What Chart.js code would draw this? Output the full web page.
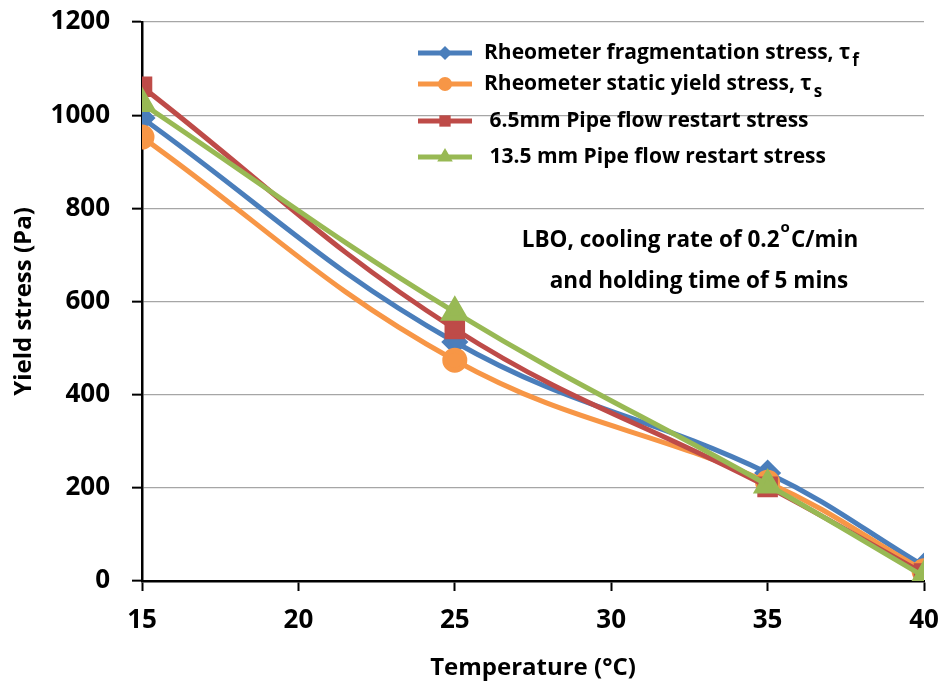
<!DOCTYPE html>
<html>
<head>
<meta charset="utf-8">
<script src="https://cdn.jsdelivr.net/npm/chart.js@4.4.0/dist/chart.umd.min.js"></script>
<style>
  html, body { margin: 0; padding: 0; background: #fff; }
  #wrap { width: 942px; height: 686px; }
</style>
</head>
<body>
<div id="wrap"><canvas id="canvasYield" width="942" height="686"></canvas></div>
<script>
// temperaturas (°C)
var temperaturas = [15, 25, 35, 40];
// esfuerzos (Pa)
var fragmentacion = [994, 513, 232, 32];
var estatico = [953, 474, 212, 22];
var tubo65 = [1061, 541, 202, 16];
var tubo135 = [1025, 577, 206, 10];

var etiquetas = [
	{ txt: 'Rheometer fragmentation stress, \u03c4', sub: 'f' },
	{ txt: 'Rheometer static yield stress, \u03c4', sub: 's' },
	{ txt: ' 6.5mm Pipe flow restart stress', sub: '' },
	{ txt: ' 13.5 mm Pipe flow restart stress', sub: '' }
];
var xTicks = [15, 20, 25, 30, 35, 40];

var colores = ['#4a7ebb', '#f79646', '#be4b48', '#98b954'];
var formas = ['rectRot', 'circle', 'rect', 'triangle'];
var radios = [10, 10, 11, 12];
var series = [fragmentacion, estatico, tubo65, tubo135];

var FONT = '"Open Sans", Lato, sans-serif';

function puntos(arr){
	var out = [];
	temperaturas.forEach(function(t, i){ out.push({ x: t, y: arr[i] }); });
	return out;
}

var toDatasets = [];
series.forEach(function(s, i){
	toDatasets.push({
		label: etiquetas[i].txt + etiquetas[i].sub,
		data: puntos(s),
		borderColor: colores[i],
		backgroundColor: colores[i],
		borderWidth: 5,
		pointStyle: formas[i],
		pointRadius: radios[i],
		pointHoverRadius: radios[i],
		tension: 0.4,
		order: 4 - i,
		fill: false
	});
});

// leyenda dentro del area + nota de texto
var leyendaPlugin = {
	id: 'leyendaPlugin',
	afterDraw: function(chart){
		var ctx = chart.ctx;
		ctx.save();
		var ys = [53, 84, 121, 157];
		ys.forEach(function(y, i){
			ctx.strokeStyle = colores[i];
			ctx.lineWidth = 5;
			ctx.beginPath();
			ctx.moveTo(418, y);
			ctx.lineTo(472, y);
			ctx.stroke();
			ctx.fillStyle = colores[i];
			Chart.helpers.drawPoint(ctx, { pointStyle: formas[i], radius: radios[i] - 3, borderWidth: 0 }, 445, y);
			ctx.fillStyle = '#000';
			ctx.font = 'bold 21px ' + FONT;
			ctx.textBaseline = 'middle';
			ctx.textAlign = 'left';
			ctx.fillText(etiquetas[i].txt, 484, y);
			if (etiquetas[i].sub) {
				var w = ctx.measureText(etiquetas[i].txt).width;
				ctx.font = 'bold 17px ' + FONT;
				ctx.fillText(etiquetas[i].sub, 484 + w + 2, y + 8);
			}
		});
		// nota
		ctx.font = 'bold 22.5px ' + FONT;
		ctx.textAlign = 'left';
		var l1a = 'LBO, cooling rate of 0.2';
		var l1b = 'C/min';
		var w1 = ctx.measureText(l1a).width;
		ctx.font = 'bold 15px ' + FONT;
		var wo = ctx.measureText('o').width;
		ctx.font = 'bold 22.5px ' + FONT;
		var w2 = ctx.measureText(l1b).width;
		var total = w1 + wo + w2 + 2;
		var cx = 690;
		var x0 = cx - total / 2;
		ctx.fillText(l1a, x0, 241);
		ctx.font = 'bold 15px ' + FONT;
		ctx.fillText('o', x0 + w1 + 1, 228);
		ctx.font = 'bold 22.5px ' + FONT;
		ctx.fillText(l1b, x0 + w1 + wo + 2, 241);
		ctx.textAlign = 'center';
		ctx.fillText('and holding time of 5 mins', 699, 282);
		ctx.restore();
	}
};

window.onload = function(){
	var ctx = document.getElementById('canvasYield').getContext('2d');
	window.myChart = new Chart(ctx, {
		type: 'line',
		data: { datasets: toDatasets },
		plugins: [leyendaPlugin],
		options: {
			responsive: false,
			animation: false,
			layout: { padding: { top: 22, right: 18, left: 10, bottom: 0 } },
			plugins: {
				legend: { display: false },
				tooltip: { enabled: false },
				title: { display: false }
			},
			scales: {
				x: {
					type: 'linear',
					min: 15,
					max: 40,
					afterBuildTicks: function(axis){
						axis.ticks = xTicks.map(function(v){ return { value: v }; });
					},
					afterFit: function(axis){
						axis.height = 105;
						axis.paddingLeft = 0;
						axis.paddingRight = 0;
					},
					grid: { drawOnChartArea: false, tickLength: 10, tickColor: '#000', tickWidth: 2 },
					border: { color: '#000', width: 2.5 },
					ticks: { color: '#000', font: { family: FONT, size: 26, weight: 'bold' }, padding: 14, maxRotation: 0 },
					title: { display: true, text: 'Temperature (\u00b0C)', color: '#000', font: { family: FONT, size: 24, weight: 'bold' }, padding: { top: 0, bottom: 3 } }
				},
				y: {
					min: 0,
					max: 1200,
					ticks: { stepSize: 200, color: '#000', font: { family: FONT, size: 26, weight: 'bold' }, padding: 22,
						callback: function(v){ return String(v); } },
					afterFit: function(axis){
						axis.width = 132;
						axis.paddingTop = 0;
						axis.paddingBottom = 0;
					},
					grid: { color: '#a6a6a6', lineWidth: 1.3, tickLength: 10, tickColor: '#000', tickWidth: 2 },
					border: { color: '#000', width: 2.5 },
					title: { display: true, text: 'Yield stress (Pa)', color: '#000', font: { family: FONT, size: 24, weight: 'bold' }, padding: { top: 0, bottom: 0 } }
				}
			}
		}
	});
};
</script>
</body>
</html>
